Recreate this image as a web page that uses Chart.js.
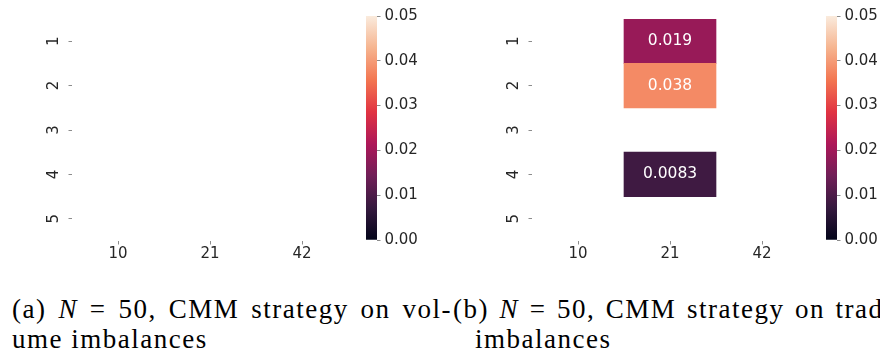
<!DOCTYPE html>
<html>
<head>
<meta charset="utf-8">
<script src="https://cdn.jsdelivr.net/npm/chart.js@4"></script>
<style>
  html, body { margin: 0; padding: 0; background: #fff; }
  body { width: 880px; height: 360px; overflow: hidden; position: relative; }
  canvas { position: absolute; top: 0; }
  .cap { position: absolute; font-family: 'Liberation Serif', serif; font-size: 27px;
         line-height: 30px; color: #000; white-space: nowrap; letter-spacing: 1.5px; }
  .just { text-align: justify; text-align-last: justify; white-space: normal; }
</style>
</head>
<body>
<canvas id="hmA" width="360" height="275" style="left:0px"></canvas>
<canvas id="cbA" width="80" height="275" style="left:360px"></canvas>
<canvas id="hmB" width="360" height="275" style="left:460px"></canvas>
<canvas id="cbB" width="80" height="275" style="left:820px"></canvas>

<div class="cap just" style="left:12px;top:294px;width:440px">(a) <i>N</i> = 50, CMM strategy on vol-</div>
<div class="cap" style="left:12px;top:324px">ume imbalances</div>
<div class="cap just" style="left:453px;top:294px;width:444px">(b) <i>N</i> = 50, CMM strategy on trade</div>
<div class="cap" style="left:475px;top:324px">imbalances</div>

<script>
// heatmap rows / columns
var rows = [1, 2, 3, 4, 5];
var cols = ['10', '21', '42'];

// (a) volume imbalances: nothing significant
var volumeValues = [
  [null, null, null],
  [null, null, null],
  [null, null, null],
  [null, null, null],
  [null, null, null]
];

// (b) trade imbalances
var tradeValues = [
  [null, 0.019, null],
  [null, 0.038, null],
  [null, null, null],
  [null, 0.0083, null],
  [null, null, null]
];

var vmin = 0, vmax = 0.05;
var cbarTicks = [0, 0.01, 0.02, 0.03, 0.04, 0.05];

// seaborn "rocket"
var rocketStops = [
  [0, '#03051a'], [1 / 7, '#35193e'], [2 / 7, '#701f57'], [3 / 7, '#ad1759'],
  [4 / 7, '#e13342'], [5 / 7, '#f37651'], [6 / 7, '#f6b48f'], [1, '#faebdd']
];

var tickFont = { family: 'DejaVu Sans', size: 15 };
var textColor = '#262626';
var tickGrey = '#8c8c8c';

function hex(h) {
  return [parseInt(h.slice(1, 3), 16), parseInt(h.slice(3, 5), 16), parseInt(h.slice(5, 7), 16)];
}

function rocket(t) {
  t = Math.max(0, Math.min(1, t));
  for (var i = 1; i < rocketStops.length; i++) {
    if (t <= rocketStops[i][0]) {
      var a = rocketStops[i - 1], b = rocketStops[i];
      var f = (t - a[0]) / (b[0] - a[0]);
      var ca = hex(a[1]), cb = hex(b[1]);
      return 'rgb(' + ca.map(function (v, k) { return Math.round(v + (cb[k] - v) * f); }).join(',') + ')';
    }
  }
  return rocketStops[rocketStops.length - 1][1];
}

var annotPlugin = {
  id: 'annot',
  afterDatasetsDraw: function (chart) {
    var ctx = chart.ctx;
    var ds = chart.data.datasets[0];
    chart.getDatasetMeta(0).data.forEach(function (bar, i) {
      ctx.save();
      ctx.fillStyle = '#fff';
      ctx.font = '15.5px "DejaVu Sans"';
      ctx.textAlign = 'center';
      ctx.textBaseline = 'middle';
      ctx.fillText(Number(ds.data[i].v).toPrecision(2), bar.x, (bar.y + bar.base) / 2);
      ctx.restore();
    });
  }
};

function heatmap(id, values) {
  var cells = [];
  rows.forEach(function (r, i) {
    cols.forEach(function (c, j) {
      var v = values[i][j];
      if (v !== null) cells.push({ x: c, y: [r - 0.5, r + 0.5], v: v });
    });
  });

  return new Chart(document.getElementById(id), {
    type: 'bar',
    data: {
      labels: cols,
      datasets: [{
        data: cells,
        backgroundColor: cells.map(function (c) { return rocket((c.v - vmin) / (vmax - vmin)); }),
        barPercentage: 1,
        categoryPercentage: 1,
        borderWidth: 0
      }]
    },
    options: {
      responsive: false,
      animation: false,
      layout: { padding: { top: 16, right: 12, left: 0, bottom: 0 } },
      plugins: { legend: { display: false }, tooltip: { enabled: false } },
      scales: {
        x: {
          type: 'category',
          offset: true,
          border: { display: false },
          grid: { offset: false, drawOnChartArea: false, tickLength: 3.5, tickColor: tickGrey },
          ticks: { color: textColor, font: tickFont, padding: 1, maxRotation: 0, minRotation: 0 },
          afterFit: function (s) { s.height = 34; }
        },
        y: {
          type: 'linear',
          min: 0.5,
          max: 5.5,
          reverse: true,
          afterBuildTicks: function (s) { s.ticks = rows.map(function (r) { return { value: r }; }); },
          border: { display: false },
          grid: { drawOnChartArea: false, tickLength: 3.5, tickColor: tickGrey },
          ticks: {
            color: textColor, font: tickFont, padding: 10,
            minRotation: 90, maxRotation: 90, crossAlign: 'center',
            callback: function (v) { return String(v); }
          },
          afterFit: function (s) { s.width = 72; }
        }
      }
    },
    plugins: [annotPlugin]
  });
}

function colorbar(id) {
  return new Chart(document.getElementById(id), {
    type: 'bar',
    data: {
      labels: [''],
      datasets: [{
        data: [[vmin, vmax]],
        backgroundColor: function (c) {
          var ch = c.chart;
          if (!ch.chartArea) return rocketStops[0][1];
          var y = ch.scales.y;
          var g = ch.ctx.createLinearGradient(0, y.getPixelForValue(vmin), 0, y.getPixelForValue(vmax));
          rocketStops.forEach(function (s) { g.addColorStop(s[0], s[1]); });
          return g;
        },
        barPercentage: 1,
        categoryPercentage: 1,
        borderWidth: 0
      }]
    },
    options: {
      responsive: false,
      animation: false,
      layout: { padding: { left: 6, top: 16, bottom: 35, right: 0 } },
      plugins: { legend: { display: false }, tooltip: { enabled: false } },
      scales: {
        x: { display: false },
        y: {
          position: 'right',
          min: vmin,
          max: vmax,
          afterBuildTicks: function (s) { s.ticks = cbarTicks.map(function (v) { return { value: v }; }); },
          border: { display: false },
          grid: { drawOnChartArea: false, tickLength: 3.5, tickColor: tickGrey },
          ticks: {
            color: textColor, font: tickFont, padding: 4,
            callback: function (v) { return v.toFixed(2); }
          },
          afterFit: function (s) { s.width = 63; }
        }
      }
    }
  });
}

heatmap('hmA', volumeValues);
colorbar('cbA');
heatmap('hmB', tradeValues);
colorbar('cbB');
</script>
</body>
</html>
